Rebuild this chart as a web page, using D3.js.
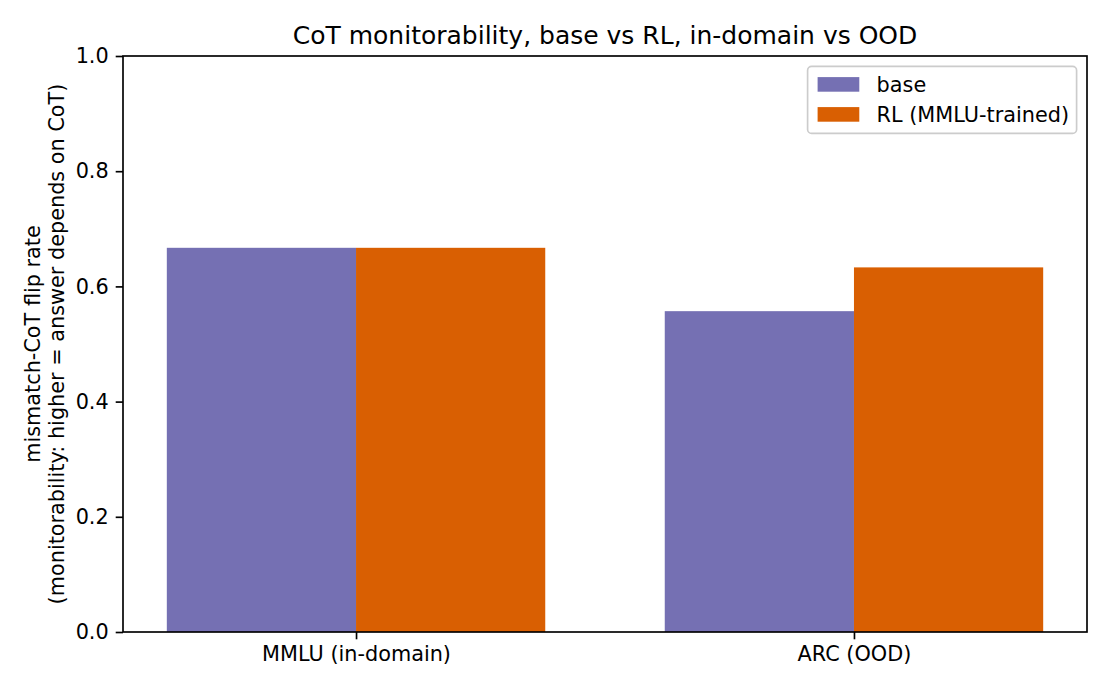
<!DOCTYPE html>
<html>
<head>
<meta charset="utf-8">
<script src="https://cdn.jsdelivr.net/npm/d3@7"></script>
<style>
  body { margin: 0; background: #fff; }
  svg text { font-family: "DejaVu Sans", sans-serif; fill: #000; }
</style>
</head>
<body>
<div id="chart"></div>
<script>
// chart data
const categories = ["MMLU (in-domain)", "ARC (OOD)"];
const seriesNames = ["base", "RL (MMLU-trained)"];
const baseValues = [0.667, 0.557];
const rlValues = [0.667, 0.633];
const yTicks = [0.0, 0.2, 0.4, 0.6, 0.8, 1.0];
const colors = ["#7570b3", "#d95f02"];

const width = 1110;
const height = 690;
const margin = { top: 56, right: 23, bottom: 58, left: 123 };
const fs = 20.8;
const barWidth = 0.38;

const svg = d3.select("#chart")
    .append("svg")
    .attr("width", width)
    .attr("height", height);

// scales
const xScale = d3.scaleLinear()
    .domain([-barWidth - 0.088, categories.length - 1 + barWidth + 0.088])
    .range([margin.left, width - margin.right]);

const yScale = d3.scaleLinear()
    .domain([0, 1])
    .range([height - margin.bottom, margin.top]);

// bars
const series = [baseValues, rlValues];
series.forEach((vals, s) => {
    svg.append("g")
        .selectAll("rect")
        .data(vals)
        .enter()
        .append("rect")
        .attr("x", (d, i) => xScale(i + (s === 0 ? -barWidth : 0)))
        .attr("y", d => yScale(d))
        .attr("width", xScale(barWidth) - xScale(0))
        .attr("height", d => yScale(0) - yScale(d))
        .attr("fill", colors[s]);
});

// axes
const yAxis = d3.axisLeft(yScale)
    .tickValues(yTicks)
    .tickFormat(d3.format(".1f"))
    .tickSize(7.3)
    .tickPadding(7);

const xAxis = d3.axisBottom(xScale)
    .tickValues(categories.map((c, i) => i))
    .tickFormat(i => categories[i])
    .tickSize(7.3)
    .tickPadding(7);

const gy = svg.append("g")
    .attr("transform", `translate(${margin.left},0)`)
    .call(yAxis);
const gx = svg.append("g")
    .attr("transform", `translate(0,${height - margin.bottom})`)
    .call(xAxis);

[gx, gy].forEach(g => {
    g.select(".domain").remove();
    g.selectAll(".tick line").attr("stroke", "#000").attr("stroke-width", 1.67);
    g.selectAll(".tick text").attr("font-size", fs).attr("font-family", "DejaVu Sans");
});

// frame (spines)
svg.append("rect")
    .attr("x", margin.left)
    .attr("y", margin.top)
    .attr("width", width - margin.left - margin.right)
    .attr("height", height - margin.top - margin.bottom)
    .attr("fill", "none")
    .attr("stroke", "#000")
    .attr("stroke-width", 1.67);

// title
svg.append("text")
    .attr("x", (margin.left + width - margin.right) / 2)
    .attr("y", 44)
    .attr("text-anchor", "middle")
    .attr("font-size", 25)
    .text("CoT monitorability, base vs RL, in-domain vs OOD");

// y label (two lines)
const yLabel = svg.append("text")
    .attr("transform", `translate(40,${(margin.top + height - margin.bottom) / 2}) rotate(-90)`)
    .attr("text-anchor", "middle")
    .attr("font-size", fs);
yLabel.append("tspan").attr("x", 0).attr("dy", 0)
    .text("mismatch-CoT flip rate");
yLabel.append("tspan").attr("x", 0).attr("dy", fs * 1.15)
    .text("(monitorability: higher = answer depends on CoT)");

// legend
const legW = 269, legH = 67;
const legX = width - margin.right - 10.4 - legW;
const legY = margin.top + 10.4;
const legend = svg.append("g").attr("transform", `translate(${legX},${legY})`);
legend.append("rect")
    .attr("width", legW)
    .attr("height", legH)
    .attr("rx", 4)
    .attr("fill", "#fff")
    .attr("fill-opacity", 0.8)
    .attr("stroke", "#cccccc")
    .attr("stroke-width", 1.67);
seriesNames.forEach((name, i) => {
    const cy = 18 + i * 30;
    legend.append("rect")
        .attr("x", 10)
        .attr("y", cy - 7.3)
        .attr("width", 41.7)
        .attr("height", 14.6)
        .attr("fill", colors[i]);
    legend.append("text")
        .attr("x", 69)
        .attr("y", cy)
        .attr("dy", "0.35em")
        .attr("font-size", fs)
        .text(name);
});
</script>
</body>
</html>
